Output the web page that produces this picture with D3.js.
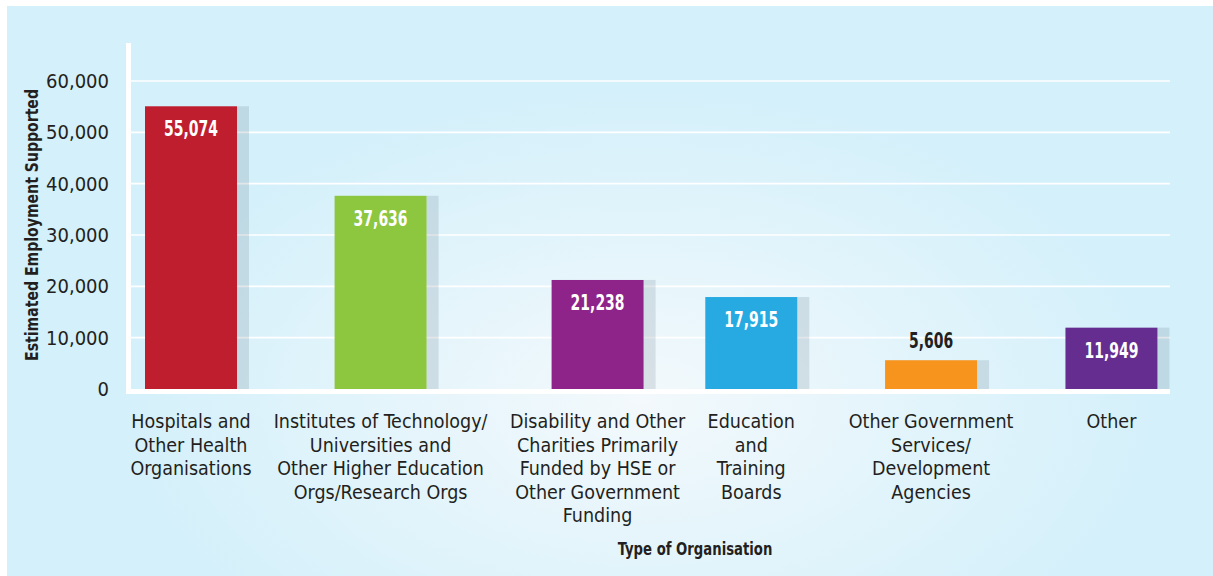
<!DOCTYPE html>
<html>
<head>
<meta charset="utf-8">
<script src="https://cdn.jsdelivr.net/npm/d3@7"></script>
<style>
body { margin: 0; background: #ffffff; }
svg { display: block; }
text { font-family: "DejaVu Sans Condensed", "Liberation Sans Narrow", "Arial Narrow", sans-serif; font-stretch: condensed; }
</style>
</head>
<body>
<svg width="1213" height="576"></svg>
<script>
// chart data
var categories = ["Hospitals", "Institutes", "Disability", "Education", "OtherGov", "Other"];
var categoryLabels = [
  ["Hospitals and", "Other Health", "Organisations"],
  ["Institutes of Technology/", "Universities and", "Other Higher Education", "Orgs/Research Orgs"],
  ["Disability and Other", "Charities Primarily", "Funded by HSE or", "Other Government", "Funding"],
  ["Education", "and", "Training", "Boards"],
  ["Other Government", "Services/", "Development", "Agencies"],
  ["Other"]
];
var values = [55074, 37636, 21238, 17915, 5606, 11949];
var yTicks = [0, 10000, 20000, 30000, 40000, 50000, 60000];
var barColors = ["#be1e2d", "#8dc63f", "#8e2489", "#27aae1", "#f7941d", "#662d91"];

var svg = d3.select("svg");
var W = 1213, H = 576;

var plot = {left: 131, right: 1170, top: 43, bottom: 389};
var textColor = "#231f20";
var fmt = d3.format(",");

// background panel with soft highlight
var defs = svg.append("defs");
var grad = defs.append("radialGradient")
  .attr("id", "bg")
  .attr("gradientUnits", "userSpaceOnUse")
  .attr("cx", 640).attr("cy", 400).attr("r", 520)
  .attr("gradientTransform", "translate(640,400) scale(1,0.6) translate(-640,-400)");
grad.append("stop").attr("offset", "0%").attr("stop-color", "#f3f9fc");
grad.append("stop").attr("offset", "55%").attr("stop-color", "#e2f4fb");
grad.append("stop").attr("offset", "100%").attr("stop-color", "#d4f0fa");

svg.append("rect")
  .attr("x", 7).attr("y", 6)
  .attr("width", W - 7).attr("height", H - 6)
  .attr("fill", "url(#bg)");

// evenly spaced slots first, then nudged apart so the wrapped labels never touch
var xPoint = d3.scalePoint()
  .domain(categories)
  .range([plot.left + 10, plot.right + 10])
  .padding(0.38);

var yScale = d3.scaleLinear()
  .domain([0, 60000])
  .range([plot.bottom, 81]);

var barWidth = 92, shadowWidth = 12;

// category labels (drawn first so they can be measured)
var labelGroup = svg.append("g")
  .selectAll("text")
  .data(categories)
  .enter()
  .append("text")
  .attr("text-anchor", "middle")
  .attr("font-size", "19.5px")
  .attr("fill", textColor);

labelGroup.selectAll("tspan")
  .data(function(d, i) { return categoryLabels[i]; })
  .enter()
  .append("tspan")
  .attr("x", 0)
  .attr("y", function(d, j) { return j * 23.6; })
  .text(function(d) { return d; });

var halfW = labelGroup.nodes().map(function(n) { return n.getBBox().width / 2; });
var centers = categories.map(function(c) { return xPoint(c); });
var minGap = 22;
for (var it = 0; it < 200; it++) {
  for (var i = 0; i < centers.length - 1; i++) {
    var need = halfW[i] + halfW[i + 1] + minGap;
    var dist = centers[i + 1] - centers[i];
    if (dist < need) {
      var shift = (need - dist) / 2;
      centers[i] -= shift;
      centers[i + 1] += shift;
    }
  }
}
var xScale = d3.scaleOrdinal().domain(categories).range(centers);

labelGroup.attr("transform", function(d) { return "translate(" + xScale(d) + ",428)"; });

// gridlines
svg.append("g")
  .selectAll("line")
  .data(yTicks.filter(function(d) { return d > 0; }))
  .enter()
  .append("line")
  .attr("x1", plot.left)
  .attr("x2", plot.right)
  .attr("y1", function(d) { return yScale(d); })
  .attr("y2", function(d) { return yScale(d); })
  .attr("stroke", "#ffffff")
  .attr("stroke-width", 1.6);

// bar shadows
svg.append("g")
  .selectAll("rect")
  .data(values)
  .enter()
  .append("rect")
  .attr("x", function(d, i) { return xScale(categories[i]) + barWidth / 2; })
  .attr("y", function(d) { return yScale(d); })
  .attr("width", shadowWidth)
  .attr("height", function(d) { return yScale(0) - yScale(d); })
  .attr("fill", "rgba(70,90,110,0.15)");

// bars
svg.append("g")
  .selectAll("rect")
  .data(values)
  .enter()
  .append("rect")
  .attr("x", function(d, i) { return xScale(categories[i]) - barWidth / 2; })
  .attr("y", function(d) { return yScale(d); })
  .attr("width", barWidth)
  .attr("height", function(d) { return yScale(0) - yScale(d); })
  .attr("fill", function(d, i) { return barColors[i]; });

// value labels: inside tall bars, above short ones
function isInside(d) { return yScale(0) - yScale(d) > 45; }

svg.append("g")
  .selectAll("text")
  .data(values)
  .enter()
  .append("text")
  .attr("transform", function(d, i) {
    var ty = isInside(d) ? yScale(d) + 30 : yScale(d) - 12;
    return "translate(" + xScale(categories[i]) + "," + ty + ") scale(0.74,1)";
  })
  .attr("text-anchor", "middle")
  .attr("font-size", "21px")
  .attr("font-weight", "bold")
  .attr("fill", function(d) { return isInside(d) ? "#ffffff" : textColor; })
  .text(function(d) { return fmt(d); });

// axis lines (white, thick)
svg.append("rect")
  .attr("x", plot.left - 5).attr("y", plot.top)
  .attr("width", 5).attr("height", plot.bottom + 5 - plot.top)
  .attr("fill", "#ffffff");
svg.append("rect")
  .attr("x", plot.left - 5).attr("y", plot.bottom)
  .attr("width", plot.right - plot.left + 5).attr("height", 5)
  .attr("fill", "#ffffff");

// y axis ticks
var yAxis = d3.axisLeft(yScale)
  .tickValues(yTicks)
  .tickSize(0)
  .tickPadding(17)
  .tickFormat(fmt);

var yg = svg.append("g")
  .attr("transform", "translate(" + (plot.left - 5) + ",0)")
  .call(yAxis);
yg.select(".domain").remove();
yg.selectAll("text")
  .attr("font-family", null)
  .attr("font-size", "20px")
  .attr("fill", textColor);

// axis titles
svg.append("text")
  .attr("transform", "translate(38,225) rotate(-90) scale(0.92,1)")
  .attr("text-anchor", "middle")
  .attr("font-size", "17px")
  .attr("font-weight", "bold")
  .attr("fill", textColor)
  .text("Estimated Employment Supported");

svg.append("text")
  .attr("transform", "translate(695,555) scale(0.84,1)")
  .attr("text-anchor", "middle")
  .attr("font-size", "17.5px")
  .attr("font-weight", "bold")
  .attr("fill", textColor)
  .text("Type of Organisation");
</script>
</body>
</html>
